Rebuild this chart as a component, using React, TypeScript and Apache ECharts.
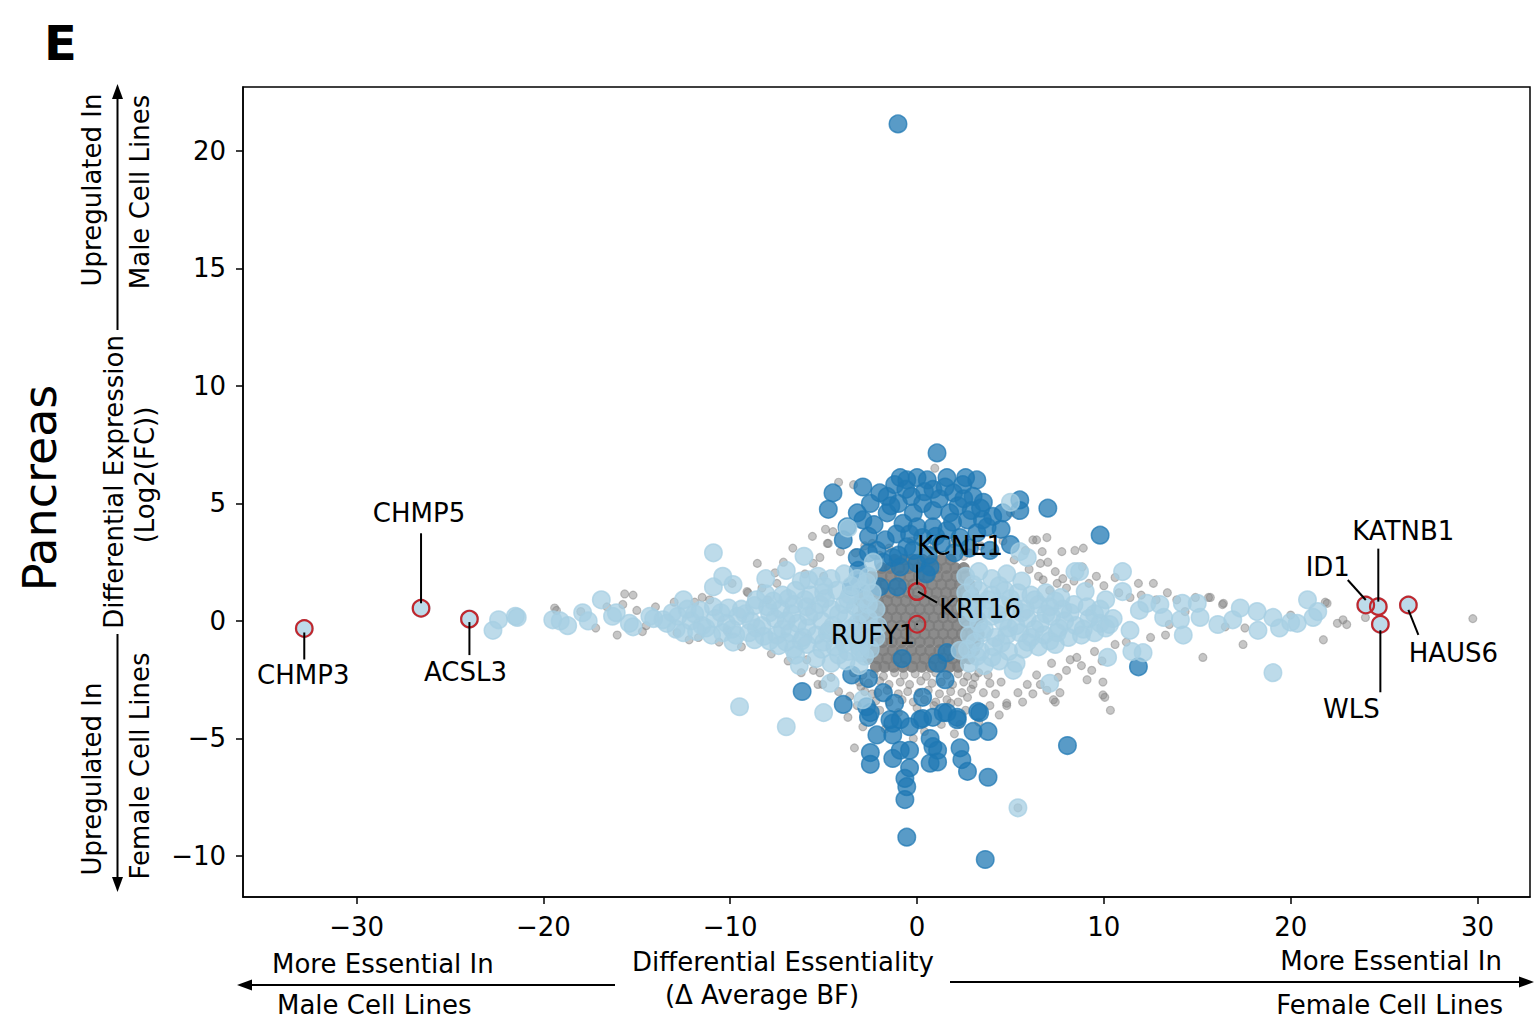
import { useEffect, useRef } from "react";
import * as echarts from "echarts";

// Axis ticks
const X_TICKS = [-30, -20, -10, 0, 10, 20, 30];
const Y_TICKS = [-10, -5, 0, 5, 10, 15, 20];
const X_MIN = -36.08;
const X_MAX = 32.81;
const Y_MIN = -11.745;
const Y_MAX = 22.72;

// Non-significant genes scattered around the cloud
const grayPoints: [number, number][] = [
  [6.95, 3.55], [6.4, 3.45], [7.75, 2.95], [8.45, 3.0], [8.9, 3.1], [6.7, 2.95], [6.6, 2.45], [7.4, 2.1],
  [7.8, 1.8], [8.85, 2.3], [6.75, 1.75], [7.1, 1.3], [10.6, 1.85], [11.85, 1.6], [12.65, 1.6], [15.6, 1.0],
  [16.4, 0.75], [16.5, -0.25], [17.45, -1.0], [21.85, 0.8], [21.75, -0.8], [15.3, -1.55], [12.5, -0.7],
  [13.3, -0.6], [9.5, -1.3], [9.35, -2.1], [9.95, -2.6], [9.1, -2.5], [9.95, -3.15], [10.35, -3.8],
  [7.4, -3.45], [5.65, -3.45], [4.8, -3.5], [5.4, -3.05], [6.95, -2.95], [7.65, -3.05], [8.2, -1.65],
  [8.55, -1.55], [3.55, -3.05], [15.7, 1.0], [16.35, 0.7], [21.95, 0.75], [22.8, 0.05], [23.0, -0.15],
  [24.0, 0.15], [29.75, 0.1], [5.0, 4.6], [6.2, 3.45], [10.05, -3.25], [2.3, -4.4], [2.7, -3.25],
  [3.9, -2.65], [7.3, -3.35], [7.55, -2.4], [4.8, -3.6], [14.35, 0.4], [13.5, -0.15], [14.9, 1.0],
  [17.55, -0.3], [20.0, 0.25], [22.5, -0.1], [2.8, 2.9], [3.4, 3.2], [4.1, 2.9], [4.6, 3.4], [5.2, 2.6],
  [5.8, 3.0], [6.0, 2.2], [6.5, 1.9], [7.0, 2.5], [7.5, 1.6], [8.0, 1.4], [8.4, 1.7], [9.2, 1.6],
  [9.6, 1.9], [10.0, 1.5], [10.8, 1.2], [11.4, 1.0], [12.0, 1.1], [12.8, 0.9], [13.4, 1.2], [13.9, 0.9],
  [11.2, -0.9], [10.6, -1.0], [9.9, -1.7], [8.8, -1.9], [8.0, -2.1], [7.2, -1.8], [6.4, -2.3], [5.9, -2.7],
  [4.5, -2.6], [3.8, -2.3], [3.1, -2.4], [2.9, -2.9], [4.2, -3.1], [6.2, -3.1], [6.6, -2.7],
  [-4.2, 5.9], [-3.4, 5.8], [0.95, 6.5], [-4.8, 3.3], [-4.5, 3.8], [-6.65, 3.1], [-4.9, 3.9], [-5.6, 3.6],
  [-19.3, 0.45], [-15.65, 1.15], [-15.2, 1.1], [-15.75, 0.7], [-15.0, 0.45], [-16.05, -0.6], [-14.7, -0.45],
  [-11.5, 1.0], [-11.1, 0.9], [-8.55, 2.45], [-7.6, 2.05], [-7.15, 2.5], [-4.75, 3.3], [-4.1, 2.95],
  [-5.55, 2.45], [-5.2, 2.7], [-5.9, -1.65], [-5.55, -2.1], [-5.2, -2.2], [-5.05, -2.7], [-10.15, -0.4],
  [-11.7, -0.7], [-12.85, -0.5], [-9.1, 1.25], [-8.0, 0.9], [-9.05, 1.2], [-7.5, 1.6], [-5.3, -2.7],
  [-19.4, 0.55], [-18.0, 0.4], [-17.2, -0.3], [-16.6, 0.6], [-13.0, 0.8], [-12.2, -0.8], [-10.6, -0.9],
  [-9.4, -1.1], [-8.3, 1.4], [-7.8, -1.4], [-6.9, -1.7], [-6.2, -2.2], [-4.6, -2.4], [-4.2, -3.0],
  [-3.6, -3.2], [-3.0, -2.8], [-2.4, -3.1], [-3.3, 2.9], [-2.8, 3.2], [-6.0, 2.0], [-5.0, 1.9],
  [-9.9, 1.6], [-11.9, 0.8], [-14.0, 0.6], [-14.5, -0.2],
  [-3.35, -5.4], [-3.2, -3.6], [-2.0, -3.8], [-1.0, -3.9], [0.0, -3.7], [0.9, -3.6], [1.8, -3.5],
  [2.6, -3.8], [3.3, -4.3], [-1.7, -4.6], [0.4, -4.7], [-0.2, -5.0], [2.0, -4.8], [-2.9, -4.5],
  [1.3, -4.4], [-3.7, -4.1], [3.9, -3.6], [4.4, -4.0], [5.4, -7.95],
  // just below the dense centre
  [-3.4, -2.2], [-2.9, -2.3], [-2.3, -2.25], [-1.8, -2.35], [-1.2, -2.2], [-0.7, -2.3], [-0.1, -2.25],
  [0.5, -2.35], [1.0, -2.2], [1.6, -2.3], [2.2, -2.25], [2.7, -2.35], [3.3, -2.2],
  [-3.1, -2.6], [-2.6, -2.65], [-2.0, -2.55], [-1.5, -2.7], [-0.9, -2.6], [-0.4, -2.7], [0.2, -2.55],
  [0.8, -2.65], [1.3, -2.6], [1.9, -2.7], [2.5, -2.6], [3.0, -2.7],
  [-2.8, -3.0], [-2.1, -3.05], [-1.6, -2.95], [-1.0, -3.1], [-0.5, -3.0], [0.1, -3.05], [0.6, -2.95],
  [1.2, -3.1], [1.8, -3.0], [2.4, -3.05],
  [-2.2, -3.4], [-1.5, -3.45], [-0.8, -3.35], [-0.2, -3.45], [0.4, -3.35], [1.0, -3.45], [1.6, -3.35], [2.2, -3.45],
  // just above the dense centre
  [-2.4, 3.3], [-1.5, 3.1], [-0.3, 3.4], [0.9, 3.2], [1.9, 3.3], [2.5, 2.75], [-2.0, 2.8],
];

// Dense centre of the non-significant genes, one row per expression level
const grayCoreRows: [number, number[]][] = [
  [2.6, [-1.2, -0.7, -0.2, 0.3, 0.8, 1.3, 1.8]],
  [2.25, [-1.9, -1.45, -0.95, -0.45, 0.05, 0.55, 1.05, 1.55, 2.05, 2.5]],
  [1.9, [-2.4, -1.9, -1.4, -0.9, -0.4, 0.1, 0.6, 1.1, 1.6, 2.1, 2.6]],
  [1.55, [-2.7, -2.2, -1.7, -1.2, -0.7, -0.2, 0.3, 0.8, 1.3, 1.8, 2.3, 2.8]],
  [1.2, [-2.9, -2.45, -1.95, -1.45, -0.95, -0.45, 0.05, 0.55, 1.05, 1.55, 2.05, 2.55, 3.0]],
  [0.85, [-3.05, -2.6, -2.1, -1.6, -1.1, -0.6, -0.1, 0.4, 0.9, 1.4, 1.9, 2.4, 2.9, 3.3]],
  [0.5, [-2.85, -2.35, -1.85, -1.35, -0.85, -0.35, 0.15, 0.65, 1.15, 1.65, 2.15, 2.65, 3.1]],
  [0.15, [-3.1, -2.6, -2.1, -1.6, -1.1, -0.6, -0.1, 0.4, 0.9, 1.4, 1.9, 2.4, 2.9, 3.35]],
  [-0.2, [-2.85, -2.35, -1.85, -1.35, -0.85, -0.35, 0.15, 0.65, 1.15, 1.65, 2.15, 2.65, 3.1]],
  [-0.55, [-3.05, -2.6, -2.1, -1.6, -1.1, -0.6, -0.1, 0.4, 0.9, 1.4, 1.9, 2.4, 2.9, 3.3]],
  [-0.9, [-2.85, -2.35, -1.85, -1.35, -0.85, -0.35, 0.15, 0.65, 1.15, 1.65, 2.15, 2.65, 3.1]],
  [-1.25, [-2.75, -2.3, -1.8, -1.3, -0.8, -0.3, 0.2, 0.7, 1.2, 1.7, 2.2, 2.7, 3.05]],
  [-1.6, [-2.6, -2.1, -1.6, -1.1, -0.6, -0.1, 0.4, 0.9, 1.4, 1.9, 2.4, 2.8]],
  [-1.95, [-2.2, -1.75, -1.25, -0.75, -0.25, 0.25, 0.75, 1.25, 1.75, 2.2]],
];

// Genes differentially essential between sexes
const lightBluePoints: [number, number][] = [
  // left lobe
  [-14.1, 0.1], [-13.4, -0.1], [-12.8, 0.2], [-12.1, 0.0], [-11.5, -0.2], [-10.8, 0.1], [-10.2, -0.1],
  [-9.6, 0.2], [-8.9, 0.0], [-8.3, -0.2], [-7.6, 0.1], [-7.0, 0.0], [-6.4, -0.1], [-5.8, 0.2], [-5.1, 0.0],
  [-4.5, -0.2], [-3.8, 0.1], [-3.2, -0.1], [-2.6, 0.1], [-2.1, -0.2],
  [-13.1, 0.35], [-11.9, 0.3], [-10.5, 0.35], [-9.2, 0.3], [-7.9, 0.35], [-6.7, 0.3], [-5.5, 0.4],
  [-4.2, 0.3], [-3.0, 0.35], [-12.9, -0.35], [-11.3, -0.3], [-9.9, -0.35], [-8.6, -0.3], [-7.2, -0.35],
  [-5.9, -0.3], [-4.7, -0.4], [-3.5, -0.3], [-2.4, -0.35],
  [-12.3, 0.5], [-11.6, 0.45], [-10.9, 0.6], [-10.1, 0.55], [-9.4, 0.5], [-8.7, 0.65], [-8.0, 0.6],
  [-7.3, 0.5], [-6.6, 0.7], [-5.9, 0.6], [-5.2, 0.7], [-4.6, 0.5], [-3.9, 0.7], [-3.3, 0.6], [-2.6, 0.7], [-2.2, 0.5],
  [-12.5, -0.5], [-11.8, -0.45], [-11.0, -0.6], [-10.4, -0.5], [-9.7, -0.6], [-9.0, -0.5], [-8.2, -0.65],
  [-7.5, -0.6], [-6.8, -0.5], [-6.1, -0.7], [-5.4, -0.6], [-4.8, -0.5], [-4.1, -0.7], [-3.4, -0.6],
  [-2.8, -0.5], [-2.2, -0.7],
  [-8.6, 0.9], [-7.7, 0.85], [-6.9, 0.95], [-6.0, 0.9], [-4.9, 0.95], [-3.7, 0.9], [-2.8, 0.95],
  [-7.9, -0.85], [-7.0, -0.9], [-6.2, -0.85], [-5.0, -0.9], [-3.9, -0.95], [-2.9, -0.9],
  [-8.1, 1.15], [-7.2, 1.1], [-6.5, 1.3], [-5.7, 1.1], [-5.0, 1.2], [-4.3, 1.3], [-3.6, 1.1], [-3.0, 1.3], [-2.4, 1.2],
  [-7.4, -1.05], [-6.6, -1.2], [-5.9, -1.0], [-5.1, -1.2], [-4.4, -1.1], [-3.7, -1.3], [-3.1, -1.1], [-2.5, -1.2],
  [-6.2, 1.7], [-5.3, 1.9], [-4.6, 1.8], [-3.9, 2.0], [-3.2, 1.8], [-2.6, 1.9], [-5.0, 1.5], [-3.5, 1.5],
  [-5.4, -1.6], [-4.6, -1.8], [-3.8, -1.7], [-3.1, -1.9], [-4.2, -1.45], [-2.8, -1.5],
  // left tail and outliers
  [-22.7, -0.4], [-22.4, 0.05], [-21.5, 0.2], [-21.4, 0.15], [-19.5, 0.05], [-19.1, 0.0], [-18.7, -0.2],
  [-17.9, 0.35], [-17.6, 0.0], [-16.9, 0.9], [-16.3, 0.2], [-16.1, 0.35], [-15.4, -0.1], [-15.2, -0.25],
  [-14.3, 0.2], [-13.6, 0.05], [-12.5, 0.9],
  [-10.9, 2.9], [-10.4, 1.9], [-10.9, 1.45], [-9.85, 1.55], [-6.05, 2.75], [-8.1, 1.8], [-7.0, 2.15],
  [-9.5, -3.65], [-7.0, -4.5], [-5.0, -3.9], [-4.65, -2.65], [-9.85, -0.9], [-8.7, -0.8], [-6.5, -1.45],
  [-6.3, -1.9], [-3.7, 3.95], [-2.35, 2.5], [-2.7, 1.65], [-2.9, -3.35], [-3.05, -1.35], [-5.8, 1.75],
  // right lobe
  [2.7, 0.1], [3.3, -0.1], [4.0, 0.2], [4.6, 0.0], [5.3, -0.2], [5.9, 0.1], [6.6, -0.1], [7.2, 0.2],
  [7.9, 0.0], [8.5, -0.2], [9.2, 0.1], [9.8, -0.1], [10.5, 0.1],
  [3.0, 0.35], [4.3, 0.3], [5.6, 0.35], [6.9, 0.3], [8.2, 0.35], [9.5, 0.3], [3.6, -0.35], [4.9, -0.3],
  [6.3, -0.35], [7.6, -0.3], [8.9, -0.35], [10.1, -0.3],
  [2.6, 0.6], [3.2, 0.7], [3.9, 0.5], [4.5, 0.7], [5.2, 0.6], [5.8, 0.5], [6.5, 0.7], [7.1, 0.6], [7.8, 0.5],
  [8.4, 0.7], [9.1, 0.6], [9.8, 0.5],
  [2.8, -0.6], [3.5, -0.5], [4.2, -0.7], [4.8, -0.6], [5.5, -0.5], [6.1, -0.7], [6.8, -0.6], [7.5, -0.5],
  [8.1, -0.7], [8.8, -0.6], [9.5, -0.5],
  [2.9, 0.95], [3.8, 0.9], [5.0, 0.95], [6.3, 0.9], [7.4, 0.85], [3.1, -0.9], [4.5, -0.95], [5.9, -0.9], [7.1, -0.85],
  [2.6, 1.2], [3.3, 1.3], [4.0, 1.1], [4.7, 1.3], [5.4, 1.2], [6.1, 1.1], [6.9, 1.2], [7.7, 1.0],
  [2.7, -1.2], [3.4, -1.3], [4.1, -1.1], [4.9, -1.3], [5.7, -1.2], [6.5, -1.1], [7.4, -1.0],
  [2.6, 1.9], [3.3, 2.1], [4.0, 1.8], [4.8, 2.0], [5.6, 1.7], [3.0, 1.55], [4.4, 1.5],
  [2.8, -1.8], [3.6, -1.9], [4.4, -1.7], [5.3, -1.8], [3.2, -1.5], [4.0, -1.55],
  // right tail and outliers
  [5.15, -2.1], [7.1, -2.65], [5.5, 2.95], [5.9, 2.7], [5.0, 5.05], [2.3, -1.25],
  [11.0, 2.1], [8.7, 2.1], [9.0, 1.25], [11.0, 1.25], [12.3, 0.75], [14.2, 0.75], [15.0, 0.75],
  [15.15, 0.15], [14.1, 0.05], [13.2, 0.15], [14.25, -0.6], [16.9, 0.05], [18.2, 0.4], [18.25, -0.4],
  [19.05, 0.15], [19.4, -0.3], [20.0, -0.05], [20.35, -0.1], [20.9, 0.9], [21.2, 0.15], [21.45, 0.4],
  [19.05, -2.2], [10.2, -1.55], [12.1, -1.35], [11.5, -1.3], [8.45, 2.1], [11.9, 0.45], [10.1, 0.9],
  [10.3, -0.15], [11.4, -0.4], [13.0, 0.7], [16.1, -0.15], [17.3, 0.55], [5.4, -7.95],
  // under the annotated genes
  [-32.8, -0.32], [-26.55, 0.54], [-23.96, 0.08], [24.02, 0.68], [24.69, 0.61], [24.8, -0.14], [26.3, 0.68],
];

// Genes differentially expressed between sexes
const darkBluePoints: [number, number][] = [
  [-1.02, 21.15],
  [1.07, 7.15], [-4.5, 5.45], [-4.75, 4.75], [-2.9, 5.7], [-2.0, 5.45], [-1.6, 5.3], [-0.55, 6.0],
  [0.0, 6.1], [0.55, 6.0], [0.85, 5.6], [1.95, 5.45], [2.45, 5.8], [3.2, 6.0], [3.0, 5.3], [3.55, 5.05],
  [4.05, 4.45], [5.5, 5.15], [5.5, 4.7], [7.0, 4.8], [9.8, 3.65], [5.0, 3.25], [3.75, 4.0], [2.7, 4.3],
  [1.75, 4.6], [0.85, 4.7], [-0.2, 4.6], [-0.75, 4.15], [-1.6, 4.6], [-2.5, 5.0], [-3.2, 4.6],
  [-3.75, 4.0], [-3.95, 3.45], [-3.2, 2.7], [-2.15, 3.0], [-1.3, 2.7], [-0.55, 3.15], [0.3, 3.55],
  [0.85, 4.0], [1.6, 3.85], [2.3, 3.55], [3.2, 3.75], [3.9, 3.0], [-0.9, 2.3], [0.0, 2.45], [0.7, 2.3],
  [-3.15, 2.15], [-2.0, 1.45], [-1.05, 1.45], [-3.05, 1.6], [-1.7, 3.45], [-3.5, 1.45],
  [-1.0, 5.0], [-0.3, 5.3], [0.3, 5.0], [1.2, 5.2], [2.2, 4.9], [2.9, 4.7], [-2.3, 4.1], [-1.1, 3.7],
  [0.0, 4.0], [1.3, 3.3], [2.0, 2.9], [2.8, 3.1], [-0.2, 3.0], [0.6, 2.8], [-1.8, 2.5], [-2.6, 3.6],
  [3.5, 4.3], [4.5, 3.9], [4.6, 4.6], [1.6, 6.1], [2.6, 6.1], [-1.2, 5.8], [-0.9, 6.1], [0.5, 2.0],
  [-0.6, 5.6], [0.4, 5.5], [1.5, 5.7], [-1.4, 4.9], [2.5, 5.2], [-2.9, 4.3], [-0.4, 3.7], [1.0, 3.6],
  [1.9, 4.2], [-2.6, 2.9], [-1.0, 2.8], [3.4, 4.8],
  [-0.8, -1.6], [1.1, -1.8], [1.6, -1.35], [1.5, -2.5], [-3.5, -2.3], [-2.6, -2.45], [-6.15, -3.0],
  [-3.95, -3.55], [-2.7, -3.65], [-1.8, -3.05], [-1.2, -3.5], [0.3, -3.25], [1.4, -3.9], [2.15, -4.1],
  [3.25, -3.85], [-2.6, -4.1], [-1.45, -4.2], [0.15, -4.2], [11.85, -1.95],
  [-2.5, -3.9], [-2.15, -4.85], [-2.5, -5.6], [-2.5, -6.1], [-1.3, -4.35], [-0.9, -4.2], [-0.4, -4.5],
  [-1.3, -4.85], [-1.3, -5.85], [-0.9, -5.5], [-0.4, -5.5], [-0.4, -6.25], [-0.65, -6.7], [-0.55, -7.05],
  [-0.65, -7.6], [-0.55, -9.2], [0.3, -4.15], [0.85, -4.1], [1.6, -3.9], [2.15, -4.2], [0.7, -5.0],
  [0.85, -5.35], [1.1, -5.5], [0.7, -6.05], [1.1, -6.0], [2.3, -5.4], [2.4, -5.9], [2.7, -6.4],
  [3.0, -4.7], [3.35, -3.9], [3.8, -4.7], [3.8, -6.65], [3.65, -10.15], [8.05, -5.3],
];

// Annotated genes
const geneNames = ["CHMP3", "CHMP5", "ACSL3", "KCNE1", "KRT16", "RUFY1", "ID1", "KATNB1", "WLS", "HAUS6"];
const geneX = [-32.8, -26.55, -23.96, 0.0, 0.0, 0.0, 24.02, 24.69, 24.8, 26.3];
const geneY = [-0.32, 0.54, 0.08, 1.25, 1.25, -0.14, 0.68, 0.61, -0.14, 0.68];

// Label placement relative to each gene's marker, in pixels: leader start, leader end, text centre
const geneLabelLayout: { start: [number, number]; end: [number, number]; text: [number, number] }[] = [
  { start: [0, 4], end: [0, 31], text: [-1, 47] },
  { start: [0, -5], end: [0, -75], text: [-2, -95] },
  { start: [0, 3], end: [0, 36], text: [-4, 53] },
  { start: [0, -7], end: [0, -27], text: [43, -46] },
  { start: [1, 0], end: [20, 11], text: [63, 17] },
  { start: [0, -0.8], end: [0, 0.8], text: [-44, 11] },
  { start: [0, -5], end: [-18, -25], text: [-38, -38] },
  { start: [0, -5], end: [0, -58], text: [25, -76] },
  { start: [0, 6], end: [0, 68], text: [-29, 85] },
  { start: [0, 5], end: [10, 30], text: [45, 48] },
];

const FONT = "DejaVu Sans";
const fmtTick = (v: number) => String(v).replace("-", "\u2212");

function textEl(text: string, x: number, y: number, size: number, align: string, rotation = 0, weight = "normal") {
  return {
    type: "text",
    x,
    y,
    rotation,
    z: 100,
    silent: true,
    style: {
      text,
      x: 0,
      y: 0,
      fill: "#000",
      fontSize: size,
      fontFamily: FONT,
      fontWeight: weight,
      textAlign: align,
      align,
      textVerticalAlign: "middle",
      verticalAlign: "middle",
    },
  };
}

function lineEl(x1: number, y1: number, x2: number, y2: number, width = 2) {
  return {
    type: "line",
    z: 100,
    silent: true,
    shape: { x1, y1, x2, y2 },
    style: { stroke: "#000", lineWidth: width },
  };
}

function arrowHead(points: number[][]) {
  return { type: "polygon", z: 100, silent: true, shape: { points }, style: { fill: "#000" } };
}

export default function App() {
  const ref = useRef<HTMLDivElement>(null);

  useEffect(() => {
    if (!ref.current) return;
    const chart = echarts.init(ref.current, null, { renderer: "svg" });

    const grayCoreData: [number, number][] = [];
    grayCoreRows.forEach(([y, xs]) => xs.forEach((x) => grayCoreData.push([x, y])));

    const axisLineStyle = { color: "#000", width: 1.5 };
    const labelStyle = { color: "#000", fontSize: 26, fontFamily: FONT };

    chart.setOption({
      animation: false,
      textStyle: { fontFamily: FONT },
      grid: {
        left: 243,
        top: 87,
        right: 6,
        bottom: 126,
        containLabel: false,
        outerBoundsMode: "none",
        show: true,
        borderColor: "#000",
        borderWidth: 1.5,
        backgroundColor: "transparent",
      },
      xAxis: {
        type: "value",
        min: X_MIN,
        max: X_MAX,
        axisLine: { show: true, onZero: false, lineStyle: axisLineStyle },
        axisTick: { show: true, length: 7, lineStyle: axisLineStyle, customValues: X_TICKS },
        axisLabel: { ...labelStyle, margin: 17, customValues: X_TICKS, formatter: fmtTick },
        splitLine: { show: false },
      },
      yAxis: {
        type: "value",
        min: Y_MIN,
        max: Y_MAX,
        axisLine: { show: true, onZero: false, lineStyle: axisLineStyle },
        axisTick: { show: true, length: 7, lineStyle: axisLineStyle, customValues: Y_TICKS },
        axisLabel: { ...labelStyle, margin: 17, customValues: Y_TICKS, formatter: fmtTick },
        splitLine: { show: false },
      },
      series: [
        {
          // tightly packed centre: overlapping markers merge into a solid grey
          type: "scatter",
          data: grayCoreData,
          symbolSize: 12,
          silent: true,
          itemStyle: { color: "#7c7c7c", borderWidth: 0, opacity: 0.88 },
        },
        {
          type: "scatter",
          data: grayPoints,
          symbolSize: 8,
          silent: true,
          itemStyle: { color: "#808080", borderColor: "#808080", borderWidth: 1.2, opacity: 0.45 },
        },
        {
          type: "scatter",
          data: darkBluePoints,
          symbolSize: 17.5,
          silent: true,
          itemStyle: { color: "#1f78b4", borderColor: "#1f78b4", borderWidth: 1.5, opacity: 0.74 },
        },
        {
          type: "scatter",
          data: lightBluePoints,
          symbolSize: 17.5,
          silent: true,
          itemStyle: { color: "#a6cee3", borderColor: "#a6cee3", borderWidth: 1.5, opacity: 0.74 },
        },
        {
          type: "scatter",
          data: geneX.map((x, i) => [x, geneY[i]]),
          symbolSize: 16.5,
          silent: true,
          z: 5,
          itemStyle: { color: "rgba(0,0,0,0)", borderColor: "#c1272d", borderWidth: 2.2, opacity: 1 },
        },
      ],
    });

    const els: any[] = [
      textEl("E", 44, 43, 48, "left", 0, "bold"),
      textEl("Pancreas", 40, 488, 46, "center", Math.PI / 2),
      // y-axis description with arrows
      textEl("Upregulated In", 92, 190, 26, "center", Math.PI / 2),
      textEl("Male Cell Lines", 140, 192, 26, "center", Math.PI / 2),
      textEl("Differential Expression", 114, 482, 26, "center", Math.PI / 2),
      textEl("(Log2(FC))", 145, 475, 26, "center", Math.PI / 2),
      textEl("Upregulated In", 92, 779, 26, "center", Math.PI / 2),
      textEl("Female Cell Lines", 140, 766, 26, "center", Math.PI / 2),
      lineEl(117.5, 97, 117.5, 330),
      lineEl(117.5, 634, 117.5, 880),
      arrowHead([[117.5, 84], [112, 99], [123, 99]]),
      arrowHead([[117.5, 892], [112, 877], [123, 877]]),
      // x-axis description with arrows
      textEl("More Essential In", 272, 964, 26, "left"),
      textEl("Male Cell Lines", 277, 1005, 26, "left"),
      textEl("Differential Essentiality", 783, 962, 26, "center"),
      textEl("(\u0394 Average BF)", 762, 995, 26, "center"),
      textEl("More Essential In", 1502, 961, 26, "right"),
      textEl("Female Cell Lines", 1503, 1005, 26, "right"),
      lineEl(250, 985, 615, 985),
      lineEl(950, 982, 1522, 982),
      arrowHead([[237, 985], [252, 979.5], [252, 990.5]]),
      arrowHead([[1534, 982], [1519, 976.5], [1519, 987.5]]),
    ];

    geneNames.forEach((name, i) => {
      const p = chart.convertToPixel({ gridIndex: 0 }, [geneX[i], geneY[i]]) as number[];
      const lay = geneLabelLayout[i];
      els.push(lineEl(p[0] + lay.start[0], p[1] + lay.start[1], p[0] + lay.end[0], p[1] + lay.end[1], 2));
      els.push(textEl(name, p[0] + lay.text[0], p[1] + lay.text[1], 26, "center"));
    });

    chart.setOption({ graphic: { elements: els } });

    return () => chart.dispose();
  }, []);

  return (
    <div
      ref={ref}
      style={{ position: "absolute", left: 0, top: 0, width: 1536, height: 1023, background: "#fff" }}
    />
  );
}
